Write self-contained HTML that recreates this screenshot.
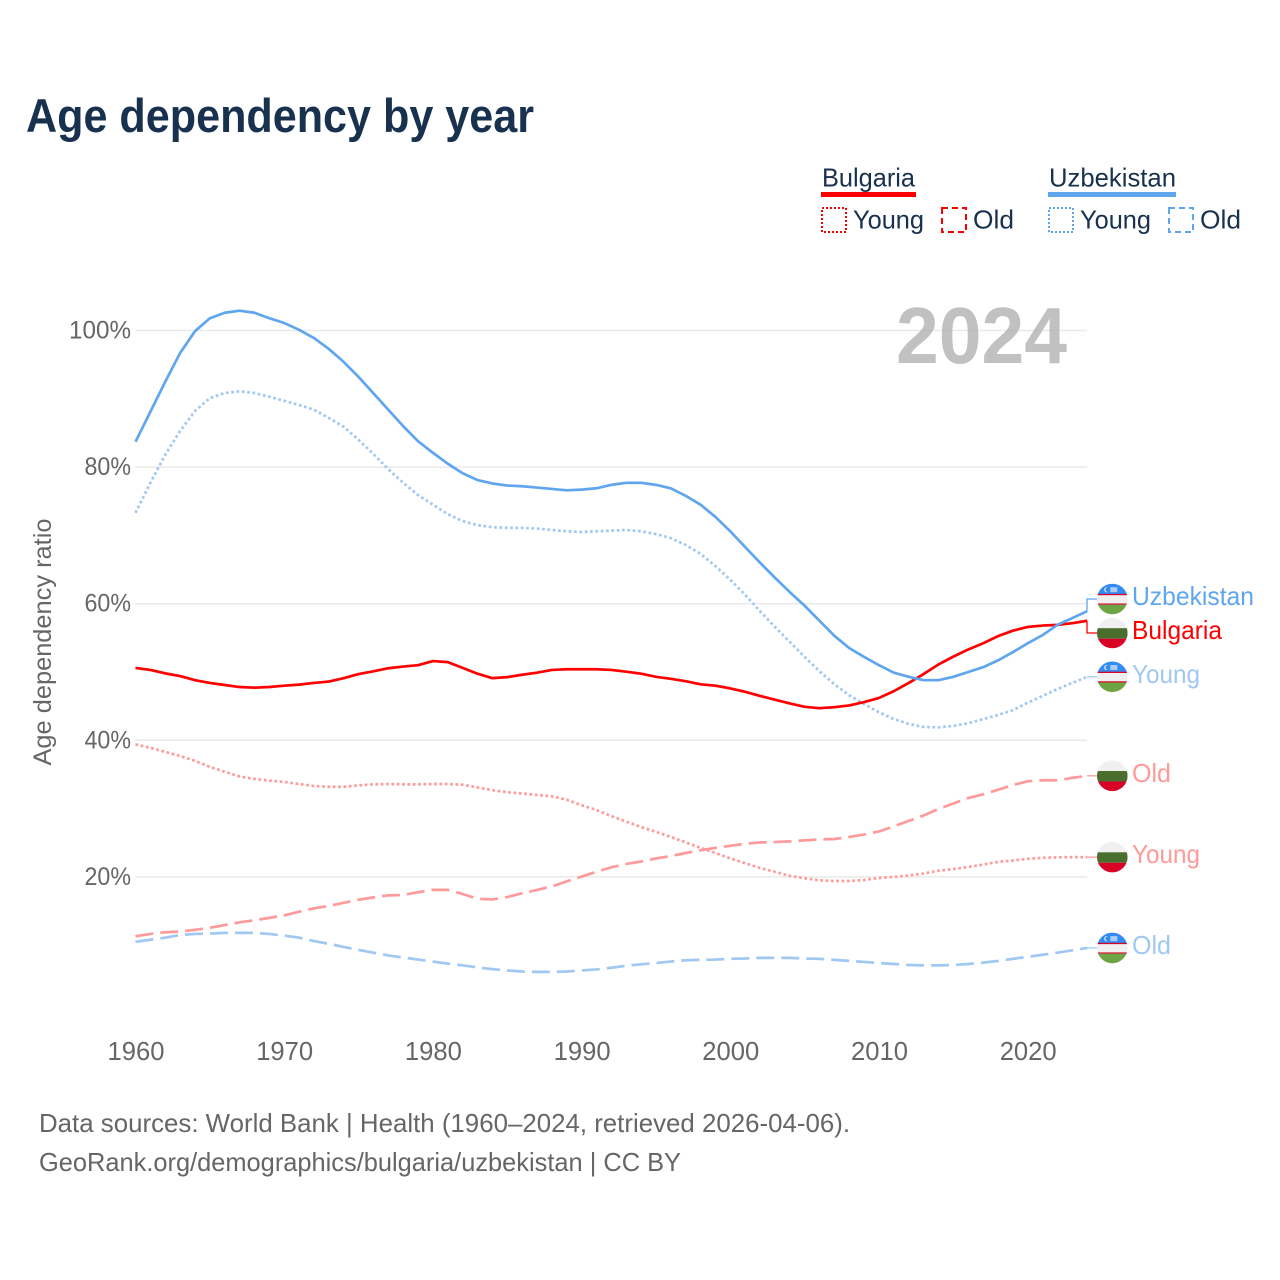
<!DOCTYPE html>
<html lang="en">
<head>
<meta charset="utf-8">
<title>Age dependency by year</title>
<style>
  html, body { margin: 0; padding: 0; background: #fff; }
  body { width: 1280px; height: 1280px; overflow: hidden; }
  svg { display: block; font-family: "Liberation Sans", sans-serif; }
</style>
</head>
<body>
<svg id="chart" width="1280" height="1280" viewBox="0 0 1280 1280" xmlns="http://www.w3.org/2000/svg">
  <rect x="0" y="0" width="1280" height="1280" fill="#ffffff"/>
  <text x="26" y="132" font-size="47" font-weight="700" fill="#18314f" textLength="508" lengthAdjust="spacingAndGlyphs">Age dependency by year</text>

  <g>
    <g>
      <text x="822" y="186.5" font-size="26" fill="#18314f" textLength="93" lengthAdjust="spacingAndGlyphs">Bulgaria</text>
      <rect x="821" y="192" width="95" height="5" fill="#ff0000"/>
      <rect x="822" y="208" width="24" height="24" fill="none" stroke="#ff0000" stroke-width="2" stroke-dasharray="2 2"/>
      <text x="853" y="228.5" font-size="26" fill="#18314f" textLength="71" lengthAdjust="spacingAndGlyphs">Young</text>
      <rect x="942" y="208" width="24" height="24" fill="none" stroke="#ff0000" stroke-width="2" stroke-dasharray="6 4"/>
      <text x="973" y="228.5" font-size="26" fill="#18314f" textLength="41" lengthAdjust="spacingAndGlyphs">Old</text>
    </g>
    <g>
      <text x="1049" y="186.5" font-size="26" fill="#18314f" textLength="127" lengthAdjust="spacingAndGlyphs">Uzbekistan</text>
      <rect x="1048" y="192" width="128" height="5" fill="#5fa6ee"/>
      <rect x="1049" y="208" width="24" height="24" fill="none" stroke="#5fa6ee" stroke-width="2" stroke-dasharray="2 2"/>
      <text x="1080" y="228.5" font-size="26" fill="#18314f" textLength="71" lengthAdjust="spacingAndGlyphs">Young</text>
      <rect x="1169" y="208" width="24" height="24" fill="none" stroke="#5fa6ee" stroke-width="2" stroke-dasharray="6 4"/>
      <text x="1200" y="228.5" font-size="26" fill="#18314f" textLength="41" lengthAdjust="spacingAndGlyphs">Old</text>
    </g>
  </g>

  <text transform="translate(51,642) rotate(-90)" text-anchor="middle" font-size="25" fill="#666666" textLength="247" lengthAdjust="spacingAndGlyphs">Age dependency ratio</text>

  <g id="grid"></g>
  <text x="896" y="363" font-size="80" font-weight="700" fill="#a6a6a6" fill-opacity="0.7" textLength="171" lengthAdjust="spacingAndGlyphs">2024</text>
  <g id="y-ticks"></g>
  <g id="x-ticks"></g>
  <g id="series"></g>
  <g id="labels"></g>

  <text x="39" y="1132" font-size="26" fill="#666666" textLength="811" lengthAdjust="spacingAndGlyphs">Data sources: World Bank | Health (1960–2024, retrieved 2026-04-06).</text>
  <text x="39" y="1171" font-size="26" fill="#666666" textLength="642" lengthAdjust="spacingAndGlyphs">GeoRank.org/demographics/bulgaria/uzbekistan | CC BY</text>
</svg>

<script>
var firstYear = 1960;
var xTickYears = [1960, 1970, 1980, 1990, 2000, 2010, 2020];
var yTickValues = [100, 80, 60, 40, 20];

var uzbekistanTotal = [83.7,88.1,92.5,96.7,99.9,101.8,102.6,102.9,102.6,101.8,101.1,100.1,98.9,97.3,95.4,93.2,90.8,88.4,86.0,83.8,82.1,80.5,79.1,78.1,77.6,77.3,77.2,77.0,76.8,76.6,76.7,76.9,77.4,77.7,77.7,77.4,76.9,75.8,74.5,72.7,70.6,68.3,66.0,63.8,61.7,59.7,57.5,55.3,53.5,52.2,51.0,49.9,49.3,48.8,48.8,49.3,50.0,50.7,51.7,52.9,54.2,55.4,56.9,57.9,58.9];
var uzbekistanYoung = [73.3,77.7,81.8,85.3,88.2,90.1,90.85,91.1,90.85,90.3,89.7,89.1,88.4,87.2,85.9,84.0,81.9,79.7,77.7,75.9,74.5,73.1,72.1,71.5,71.2,71.1,71.1,71.0,70.8,70.6,70.5,70.6,70.7,70.8,70.6,70.2,69.6,68.6,67.3,65.5,63.5,61.3,58.9,56.6,54.4,52.2,50.1,48.2,46.6,45.3,44.1,43.1,42.4,41.95,41.9,42.1,42.5,43.1,43.7,44.4,45.5,46.5,47.5,48.4,49.3];
var uzbekistanOld = [10.5,10.8,11.1,11.5,11.65,11.7,11.8,11.8,11.8,11.65,11.4,11.1,10.6,10.2,9.75,9.3,8.9,8.5,8.2,7.9,7.6,7.3,7.05,6.75,6.5,6.3,6.15,6.1,6.1,6.15,6.3,6.45,6.7,7.0,7.2,7.4,7.6,7.8,7.85,7.9,8.0,8.05,8.15,8.15,8.15,8.05,8.0,7.85,7.7,7.55,7.4,7.25,7.1,7.05,7.05,7.1,7.25,7.45,7.7,8.0,8.3,8.6,8.9,9.25,9.6];
var bulgariaTotal = [50.6,50.3,49.8,49.4,48.8,48.4,48.1,47.8,47.7,47.8,48.0,48.15,48.4,48.6,49.1,49.7,50.1,50.55,50.8,51.0,51.6,51.45,50.6,49.75,49.1,49.25,49.6,49.9,50.3,50.4,50.4,50.4,50.3,50.05,49.75,49.3,49.0,48.65,48.2,48.0,47.6,47.1,46.5,45.95,45.4,44.9,44.7,44.85,45.1,45.6,46.2,47.2,48.4,49.7,51.1,52.25,53.3,54.2,55.25,56.05,56.6,56.8,56.9,57.15,57.5];
var bulgariaYoung = [39.4,38.9,38.3,37.7,37.0,36.1,35.4,34.7,34.35,34.1,33.9,33.6,33.3,33.2,33.2,33.4,33.55,33.6,33.55,33.55,33.6,33.6,33.5,33.1,32.7,32.4,32.2,32.0,31.8,31.3,30.5,29.8,28.9,28.1,27.3,26.6,25.85,25.05,24.25,23.5,22.7,22.0,21.3,20.75,20.15,19.8,19.5,19.4,19.4,19.55,19.85,20.0,20.2,20.5,20.9,21.15,21.45,21.8,22.2,22.4,22.65,22.8,22.85,22.9,22.9];
var bulgariaOld = [11.3,11.65,11.9,12.0,12.25,12.55,12.95,13.35,13.65,14.0,14.35,14.9,15.4,15.75,16.2,16.65,17.0,17.3,17.35,17.75,18.1,18.1,17.5,16.8,16.7,17.05,17.6,18.1,18.6,19.35,20.05,20.75,21.4,21.9,22.25,22.7,23.05,23.5,23.9,24.25,24.55,24.85,25.05,25.1,25.2,25.35,25.5,25.55,25.85,26.2,26.65,27.4,28.2,29.0,29.95,30.75,31.55,32.1,32.75,33.45,34.0,34.15,34.15,34.5,34.8];

var NS = 'http://www.w3.org/2000/svg';
var plotLeft = 135.5, plotRight = 1087;
function xScale(year) { return plotLeft + (year - firstYear) * 14.87; }
function yScale(value) { return 330.5 + (100 - value) * 6.83; }

function make(parentId, tag, attrs, text) {
  var el = document.createElementNS(NS, tag);
  for (var k in attrs) el.setAttribute(k, attrs[k]);
  if (text !== undefined) el.textContent = text;
  if (typeof parentId === 'string') document.getElementById(parentId).appendChild(el);
  else parentId.appendChild(el);
  return el;
}

yTickValues.forEach(function (v) {
  var line = make('grid', 'line', { x1: plotLeft, x2: plotRight, y1: yScale(v), y2: yScale(v), stroke: '#e9e9e9', 'stroke-width': 1.5 });
  
  
  var tickText = v + '%';
  var label = make('y-ticks', 'text', { x: 131, y: yScale(v) + 8, 'text-anchor': 'end', 'font-size': 25, fill: '#666666', textLength: tickText.length * 15.5 + 0, lengthAdjust: 'spacingAndGlyphs' }, tickText);
  
  
});

xTickYears.forEach(function (year) {
  var label = make('x-ticks', 'text', { x: xScale(year) + 0.5, y: 1060, 'text-anchor': 'middle', 'font-size': 26, fill: '#666666', textLength: 57, lengthAdjust: 'spacingAndGlyphs' }, String(year));
  
  
});

function pointsOf(values) {
  return values.map(function (v, i) {
    return xScale(firstYear + i).toFixed(2) + ',' + yScale(v).toFixed(2);
  }).join(' ');
}

var BLUE = '#5fa6ee', BLUE_LIGHT = '#a0c8f3', RED = '#ff0000', RED_LIGHT = '#ff9a9a';
var DOT = '2.67 2.67', DASH = '18 7';

function drawLine(values, color, dash, name) {
  var line = make('series', 'polyline', { points: pointsOf(values), fill: 'none', stroke: color, 'stroke-width': 2.7, 'stroke-linejoin': 'round' });
  if (dash) line.setAttribute('stroke-dasharray', dash);
  
  
}
drawLine(uzbekistanOld, BLUE_LIGHT, DASH, 'line-uzbekistan-old');
drawLine(bulgariaOld, RED_LIGHT, DASH, 'line-bulgaria-old');
drawLine(bulgariaYoung, RED_LIGHT, DOT, 'line-bulgaria-young');
drawLine(uzbekistanYoung, BLUE_LIGHT, DOT, 'line-uzbekistan-young');
drawLine(bulgariaTotal, RED, null, 'line-bulgaria-total');
drawLine(uzbekistanTotal, BLUE, null, 'line-uzbekistan-total');

var clipDefs = make('chart', 'defs', {});
var flagCount = 0;

function drawFlag(group, country, cy) {
  var cx = 1112.3, r = 15.3;
  flagCount += 1;
  var clipId = 'flag-clip-' + flagCount;
  var clip = make(clipDefs, 'clipPath', { id: clipId });
  make(clip, 'circle', { cx: cx, cy: cy, r: r });
  var flag = make(group, 'g', { 'clip-path': 'url(#' + clipId + ')' });
  
  
  var x = cx - r, w = 2 * r, t = cy - r;
  if (country === 'bulgaria') {
    make(flag, 'rect', { x: x, y: t, width: w, height: 10.5, fill: '#f0f0f0' });
    make(flag, 'rect', { x: x, y: t + 10.5, width: w, height: 10.5, fill: '#496e2d' });
    make(flag, 'rect', { x: x, y: t + 21, width: w, height: 10, fill: '#d80027' });
  } else {
    make(flag, 'rect', { x: x, y: t, width: w, height: 10.5, fill: '#338af3' });
    make(flag, 'rect', { x: x, y: t + 10.5, width: w, height: 10.5, fill: '#f0f0f0' });
    make(flag, 'rect', { x: x, y: t + 10.2, width: w, height: 1.3, fill: '#d80027' });
    make(flag, 'rect', { x: x, y: t + 19.8, width: w, height: 1.3, fill: '#d80027' });
    make(flag, 'rect', { x: x, y: t + 21, width: w, height: 10, fill: '#6da544' });
    make(flag, 'circle', { cx: cx - 5.5, cy: t + 6, r: 2.6, fill: '#f0f0f0' });
    make(flag, 'circle', { cx: cx - 4.5, cy: t + 6, r: 2.4, fill: '#338af3' });
    make(flag, 'rect', { x: cx - 2, y: t + 3.5, width: 7, height: 5, fill: '#f0f0f0', 'fill-opacity': 0.65 });
  }
}

var entries = [
  { key: 'uzbekistan-total', text: 'Uzbekistan', values: uzbekistanTotal, color: BLUE, country: 'uzbekistan', width: 122 },
  { key: 'bulgaria-total', text: 'Bulgaria', values: bulgariaTotal, color: RED, country: 'bulgaria', width: 90 },
  { key: 'uzbekistan-young', text: 'Young', values: uzbekistanYoung, color: BLUE_LIGHT, country: 'uzbekistan', width: 68 },
  { key: 'bulgaria-old', text: 'Old', values: bulgariaOld, color: RED_LIGHT, country: 'bulgaria', width: 39 },
  { key: 'bulgaria-young', text: 'Young', values: bulgariaYoung, color: RED_LIGHT, country: 'bulgaria', width: 68 },
  { key: 'uzbekistan-old', text: 'Old', values: uzbekistanOld, color: BLUE_LIGHT, country: 'uzbekistan', width: 39 }
];

entries.forEach(function (e) {
  e.lineY = yScale(e.values[e.values.length - 1]);
  e.labelY = e.lineY;
});
entries.sort(function (a, b) { return a.lineY - b.lineY; });
for (var pass = 0; pass < 4; pass++) {
  for (var i = 1; i < entries.length; i++) {
    var gap = entries[i].labelY - entries[i - 1].labelY;
    if (gap < 34) {
      var push = (34 - gap) / 2;
      entries[i - 1].labelY -= push;
      entries[i].labelY += push;
    }
  }
}

entries.forEach(function (e) {
  var group = make('labels', 'g', {});
  
  
  var connector = make(group, 'polyline', {
    points: plotRight + ',' + e.lineY + ' ' + plotRight + ',' + e.labelY + ' 1097,' + e.labelY,
    fill: 'none', stroke: e.color, 'stroke-width': 1.3
  });
  
  
  drawFlag(group, e.country, e.labelY);
  var label = make(group, 'text', { x: 1132, y: e.labelY + 6, 'font-size': 26, fill: e.color, textLength: e.width, lengthAdjust: 'spacingAndGlyphs' }, e.text);
  
  
});
</script>
</body>
</html>
